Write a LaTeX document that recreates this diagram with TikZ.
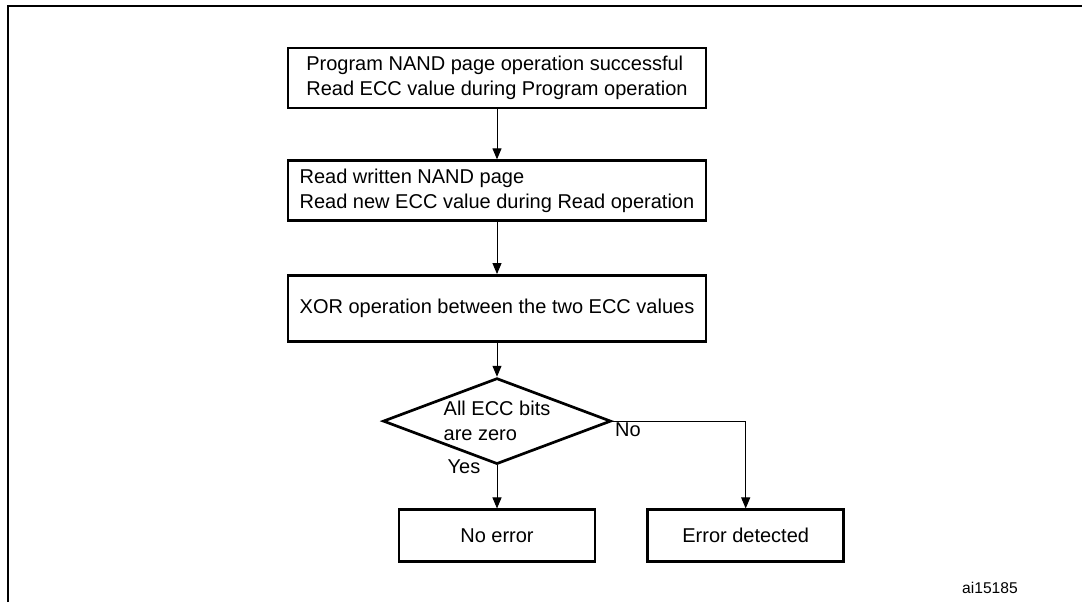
\documentclass[tikz,border=0pt]{standalone}
\usepackage{fontspec}
\setmainfont{Liberation Sans}
\usetikzlibrary{positioning,shapes.geometric,arrows.meta}

\begin{document}
\begin{tikzpicture}[x=0.5pt,y=-0.5pt,
			stepbox/.style={rectangle, draw=black, line width=1.35pt, minimum width=209pt, minimum height=30pt, align=left, font=\fontsize{10}{12.5}\selectfont},
			endbox/.style={rectangle, draw=black, line width=1.35pt, minimum width=98pt, minimum height=26pt, font=\fontsize{10}{12.5}\selectfont},
			testnode/.style={diamond, draw=black, line width=1.35pt, aspect=2.65, minimum width=114pt, minimum height=43pt, inner sep=0pt, align=left, font=\fontsize{10}{12.5}\selectfont},
			flow/.style={-{Triangle[length=5.5pt,width=4.5pt]}, line width=0.5pt},
			lbl/.style={font=\fontsize{10}{12.5}\selectfont},
		]
		
			\useasboundingbox (0,0) rectangle (1082,602);
			
			%Frame
			\draw[line width=1pt] (8,602) -- (8,6) -- (1082,6);
		
			%Nodes
			\node[stepbox]		(prog)	at (497,78)	{Program NAND page operation successful\\Read ECC value during Program operation};
			\node[stepbox]		(read)	[below=25pt of prog]	{Read written NAND page\\Read new ECC value during Read operation};
			\node[stepbox, minimum height=33pt]		(xor)	[below=26pt of read]	{XOR operation between the two ECC values};
			\node[testnode]		(zero)	[below=17pt of xor]	{All ECC bits\\are zero};
			\node[endbox]		(noerr)	[below=21.5pt of zero]	{No error};
			\node[endbox]		(err)	[right=25pt of noerr]	{Error detected};
			\node[lbl]		(yes)	at (464,467)	{Yes};
			\node[lbl]		(no)	at (628,430)	{No};
			\node[font=\fontsize{7.8}{9}\selectfont]		(fig)	at (990,588)	{ai15185};
		
			%Lines
			\draw[flow]	(prog) -- (read);
			\draw[flow]	(read) -- (xor);
			\draw[flow]	(xor) -- (zero);
			\draw[flow]	(zero) -- (noerr);
			\draw[flow]	(zero.east) -| (err.north);
		
		\end{tikzpicture}
\end{document}
